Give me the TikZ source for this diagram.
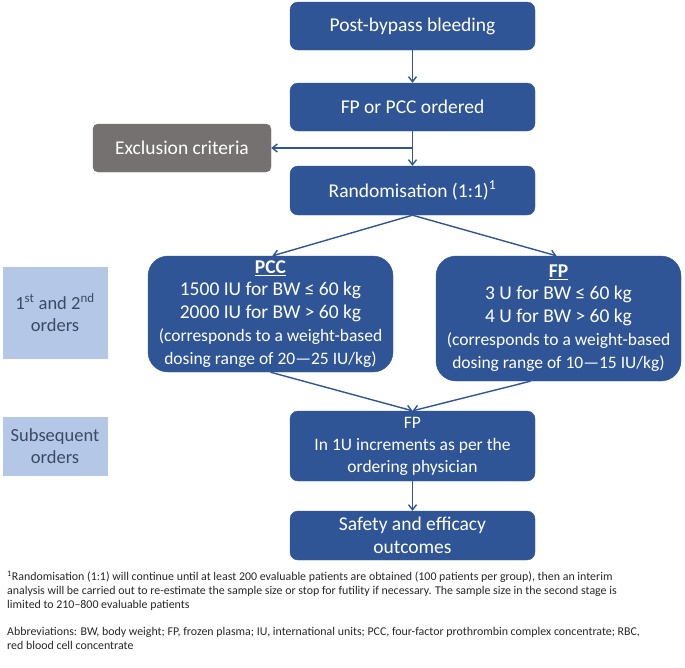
\documentclass[tikz,border=0pt]{standalone}
\usepackage{fontspec}
\setmainfont{Carlito}
\usetikzlibrary{arrows.meta}
\definecolor{boxblue}{HTML}{2F5597}
\definecolor{boxgrey}{HTML}{767171}
\definecolor{lblue}{HTML}{B4C7E7}
\definecolor{lbtext}{HTML}{3A4A63}
\begin{document}
\begin{tikzpicture}[x=1pt,y=-1pt,
  box/.style={draw=boxblue, fill=boxblue, text=white, rounded corners=8pt, align=center,
    minimum width=245pt, inner sep=1pt, font=\fontsize{19.5}{23}\selectfont},
  bigbox/.style={box, rounded corners=20pt},
  greybox/.style={box, draw=boxgrey, fill=boxgrey, minimum width=178pt, rounded corners=5pt},
  sidebox/.style={draw=lblue, fill=lblue, text=lbtext, align=center, minimum width=104pt,
    inner sep=1pt, font=\fontsize{18.5}{22}\selectfont},
  conn/.style={draw=boxblue, line width=1.4pt, -{Straight Barb[length=5pt,width=8pt]}},
  notes/.style={anchor=north west, align=left, inner sep=0pt, text=black!85,
    font=\fontsize{11.9}{14}\selectfont}
]
\useasboundingbox (0,0) rectangle (685,667);

\node[box, minimum height=48pt] (pb) at (412.5,26) {Post-bypass bleeding};
\node[box, minimum height=48pt] (ord) at (412.5,107) {FP or PCC ordered};
\node[greybox, minimum height=48pt] (ex) at (182,148) {Exclusion criteria};
\node[box, minimum height=49pt] (rand) at (412.5,190.5) {Randomisation (1:1)\textsuperscript{1}};

\node[bigbox, minimum height=116pt] (pcc) at (270.5,314) {\underline{\textbf{PCC}}\\[-1pt]
  1500 IU for BW ≤ 60 kg\\ 2000 IU for BW > 60 kg\\
  {\fontsize{17.5}{21}\selectfont (corresponds to a weight-based}\\
  {\fontsize{17.5}{21}\selectfont dosing range of 20—25 IU/kg)}};
\node[bigbox, minimum height=125pt] (fpa) at (558.5,318.5) {\underline{\textbf{FP}}\\[-1pt]
  3 U for BW ≤ 60 kg\\ 4 U for BW > 60 kg\\
  {\fontsize{17.5}{21}\selectfont (corresponds to a weight-based}\\
  {\fontsize{17.5}{21}\selectfont dosing range of 10—15 IU/kg)}};

\node[box, minimum height=70pt, font=\fontsize{17.5}{22}\selectfont] (fpb) at (412.5,446) {FP\\ In 1U increments as per the\\ ordering physician};
\node[box, minimum height=49pt] (safe) at (412.5,535.5) {Safety and efficacy\\ outcomes};

\node[sidebox, minimum height=91pt] (s1) at (55,312.5) {1\textsuperscript{st} and 2\textsuperscript{nd}\\ orders};
\node[sidebox, minimum height=58pt] (s2) at (55,446) {Subsequent\\ orders};

\draw[conn] (pb) -- (ord);
\draw[conn] (ord) -- (rand);
\coordinate (br) at (ord.south |- ex.east);
\draw[conn] (br) -- (ex.east);
\draw[conn] (rand.south) -- ([xshift=2pt]pcc.north);
\draw[conn] (rand.south) -- ([xshift=-2pt]fpa.north);
\draw[conn] (pcc.south) -- (fpb.north);
\draw[conn] ([xshift=-28pt]fpa.south) -- (fpb.north);
\draw[conn] (fpb) -- (safe);

\node[notes] (fn) at (7,571)
 {\textsuperscript{1}Randomisation (1:1) will continue until at least 200 evaluable patients are obtained (100 patients per group), then an interim\\
 analysis will be carried out to re-estimate the sample size or stop for futility if necessary. The sample size in the second stage is\\
 limited to 210–800 evaluable patients};
\node[notes, font=\fontsize{11.9}{14.5}\selectfont] (ab) at (7,627)
 {Abbreviations: BW, body weight; FP, frozen plasma; IU, international units; PCC, four-factor prothrombin complex concentrate; RBC,\\
 red blood cell concentrate};
\end{tikzpicture}
\end{document}
